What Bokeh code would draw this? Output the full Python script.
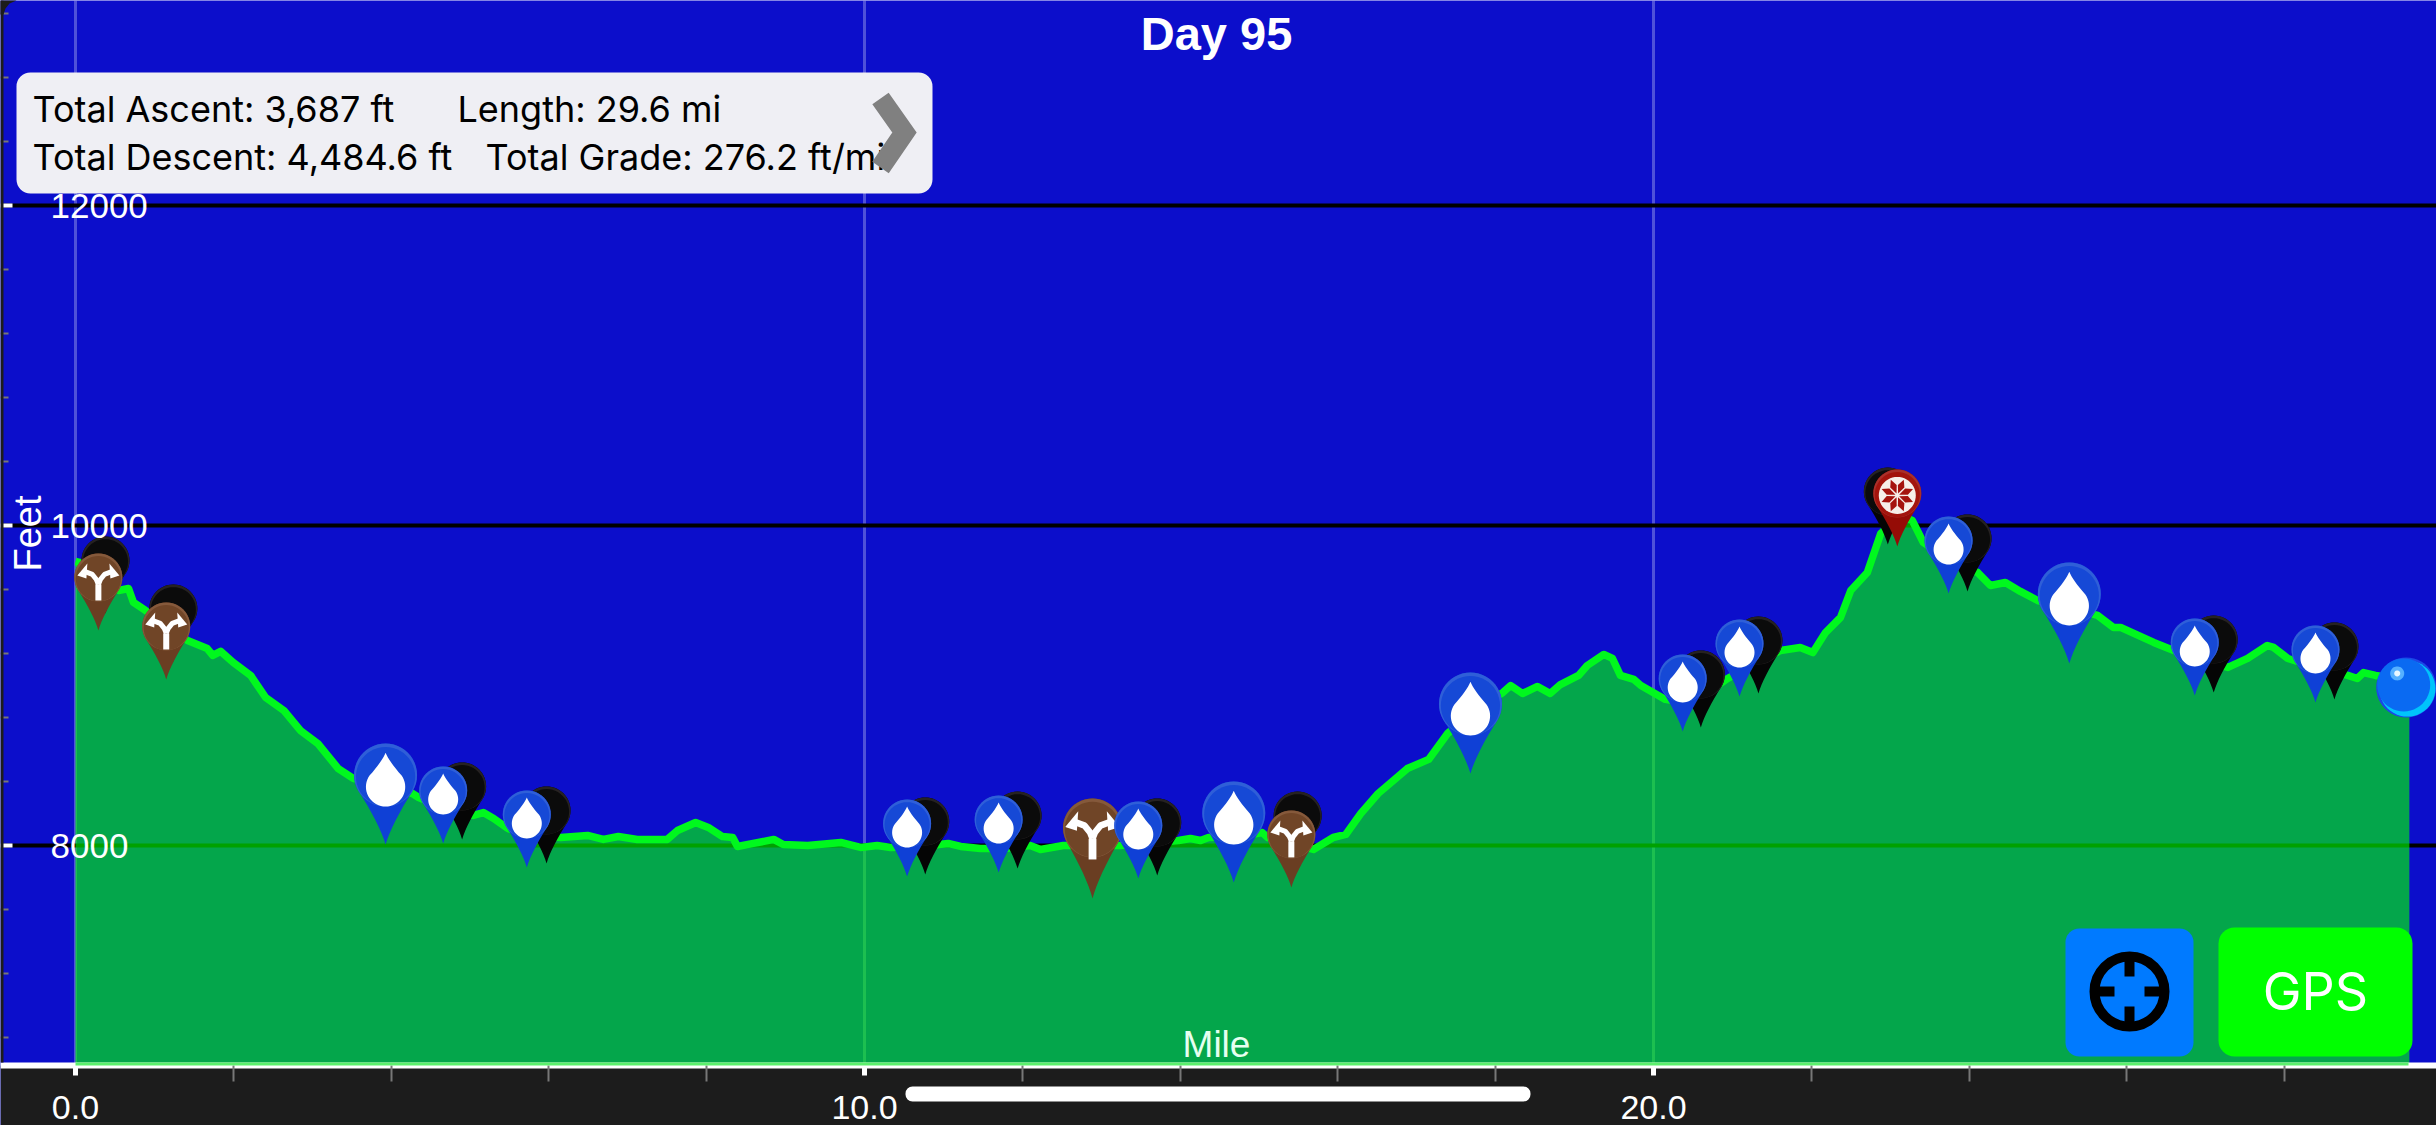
import math
from bokeh.embed import file_html
from bokeh.resources import INLINE
from bokeh.plotting import figure
from bokeh.models import (Range1d, LinearAxis, FixedTicker, PrintfTickFormatter, Grid,
                          BoxAnnotation, Label)
from bokeh.core.properties import value

# ---------- data ----------
title_text = "Day 95"
x_ticks = [0, 10, 20]
x_minor_ticks = [2, 4, 6, 8, 12, 14, 16, 18, 22, 24, 26, 28]
y_ticks = [8000, 10000, 12000]
y_tick_labels = ["8000", "10000", "12000"]
y_minor_ticks = [6800, 7200, 7600, 8400, 8800, 9200, 9600, 10400, 10800, 11200, 11600, 12400, 12800, 13200]

miles = [0.00, 0.25, 0.545, 0.672, 0.735, 0.887, 1.42, 1.67, 1.74, 1.84, 2.00, 2.22, 2.41, 2.64, 2.85, 3.07, 3.33,
         3.52, 4.27, 4.35, 4.69, 5.04, 5.17, 5.30, 5.48, 5.83, 6.15, 6.49, 6.69, 6.88, 7.12, 7.50, 7.63, 7.86, 8.02,
         8.20, 8.33, 8.39, 8.59, 8.85, 8.97, 9.28, 9.70, 9.95, 10.16, 10.33, 10.71, 11.06, 11.22, 11.47, 11.79, 12.10,
         12.23, 12.52, 13.24, 13.98, 14.13, 14.26, 14.36, 14.77, 15.04, 15.11, 15.40, 15.69, 15.94, 16.10, 16.29,
         16.51, 16.88, 17.15, 17.39, 17.74, 18.09, 18.19, 18.34, 18.53, 18.69, 18.82, 19.05, 19.16, 19.37, 19.48,
         19.58, 19.75, 19.84, 20.15, 20.47, 20.72, 20.94, 21.23, 21.61, 21.86, 22.02, 22.18, 22.37, 22.50, 22.71,
         22.88, 23.13, 23.28, 23.42, 23.76, 24.11, 24.27, 24.46, 24.65, 24.87, 25.22, 25.63, 25.83, 25.92, 26.34,
         26.53, 26.93, 27.28, 27.53, 27.78, 27.86, 28.04, 28.45, 28.80, 28.92, 29.00, 29.15, 29.58]
feet = [9775, 9745, 9594, 9606, 9519, 9469, 9281, 9231, 9188, 9213, 9144, 9063, 8925, 8844, 8719, 8638, 8481,
        8419, 8325, 8300, 8231, 8188, 8206, 8169, 8106, 8063, 8050, 8063, 8038, 8056, 8038, 8038, 8094, 8144, 8113,
        8056, 8050, 7994, 8013, 8038, 8006, 8000, 8019, 7988, 8000, 7988, 7994, 8013, 7994, 7981, 7981, 8000,
        7975, 8000, 8000, 8031, 8044, 8031, 8050, 8056, 8081, 8050, 8013, 7975, 8050, 8069, 8200,
        8325, 8481, 8538, 8700, 8844, 8956, 9000, 8950, 8994, 8950, 9006, 9063, 9125, 9194, 9169,
        9063, 9038, 9000, 8913, 8888, 8969, 9044, 9125, 9219, 9238, 9206, 9331, 9425, 9594, 9706,
        9950, 10063, 10031, 9894, 9781, 9706, 9625, 9644, 9588, 9531, 9488, 9438, 9363, 9363, 9269,
        9231, 9156, 9113, 9169, 9250, 9238, 9169, 9106, 9063, 9044, 9081, 9063, 9031]

black_miles = [0.38, 1.24, 4.90, 5.97, 10.77, 11.94, 13.71, 15.49, 20.60, 21.33, 22.97, 23.98, 27.10, 28.63]
black_feet = [9450, 9150, 8038, 7888, 7819, 7856, 7813, 7856, 8738, 8950, 9881, 9588, 8956, 8913]
water_miles = [4.66, 5.72, 10.54, 11.70, 13.47, 20.37, 21.09, 23.74, 26.86, 28.39]
water_feet = [8013, 7863, 7806, 7831, 7794, 8713, 8931, 9575, 8938, 8894]
big_water_miles = [3.93, 14.68, 17.68, 25.27]
big_water_feet = [8006, 7769, 8450, 9138]
fork_miles = [0.29, 1.15, 15.41]
fork_feet = [9344, 9038, 7738]
big_fork_miles = [12.89]
big_fork_feet = [7669]
peak_miles = [23.09]
peak_feet = [9869]
here_mile = 29.54
here_feet = 8988

# ---------- reference-pixel scale of the chart ----------
PX_PER_MILE = 78.9
FT_PER_PX = 6.25
def X(px): return (px - 75) / PX_PER_MILE
def Y(py): return 8000 + (845 - py) * FT_PER_PX

p = figure(width=2436, height=1125, frame_width=2436, frame_height=1125, output_backend="svg", toolbar_location=None,
           x_range=Range1d(X(0), X(2436)), y_range=Range1d(Y(1125), Y(0)), x_axis_type=None, y_axis_type=None,
           min_border=0, min_border_left=0, min_border_right=0, min_border_top=0, min_border_bottom=0,
           background_fill_color="#0c0ecb", border_fill_color="#1c1c1c", outline_line_color=None)

xticker = FixedTicker(ticks=x_ticks, minor_ticks=x_minor_ticks)
yticker = FixedTicker(ticks=y_ticks, minor_ticks=y_minor_ticks)
xaxis = LinearAxis(ticker=xticker, formatter=PrintfTickFormatter(format="%.1f"), fixed_location=Y(1065),
                   axis_line_color="white", axis_line_width=6,
                   major_tick_line_color="white", major_tick_line_width=5, major_tick_in=0, major_tick_out=10,
                   minor_tick_line_color="#777777", minor_tick_line_width=2, minor_tick_in=0, minor_tick_out=16,
                   major_label_text_color="white", major_label_text_font="Liberation Sans",
                   major_label_text_font_size="34px", major_label_standoff=14)
p.add_layout(xaxis, "below")
yaxis = LinearAxis(ticker=yticker, major_label_overrides={t: "" for t in y_ticks},
                   axis_line_color=None,
                   major_tick_line_color="white", major_tick_line_width=4, major_tick_in=12, major_tick_out=0,
                   minor_tick_line_color="#777777", minor_tick_line_width=2, minor_tick_in=8, minor_tick_out=0,
                   major_label_standoff=0, major_label_text_font_size="1px")
p.add_layout(yaxis, "left")
p.add_layout(Grid(dimension=0, ticker=xticker, grid_line_color="white", grid_line_alpha=0.28, grid_line_width=3))
p.add_layout(Grid(dimension=1, ticker=yticker, grid_line_color="black", grid_line_width=4))

base = Y(1063)
p.varea(x=miles, y1=[base] * len(miles), y2=feet, fill_color="#00ff00", fill_alpha=0.63)
p.line(x=miles, y=feet, line_color="#00f81e", line_width=7.5, line_join="round")
# dark device strip under the plot area, behind the x axis
p.quad(left=[X(0)], right=[X(2436)], top=[Y(1065)], bottom=[Y(1125)], fill_color="#1c1c1c", line_color=None)

# y tick labels start at the same x in the reference (left aligned)
p.text(x=[X(50)] * len(y_ticks), y=y_ticks, text=y_tick_labels, text_color="white", text_align="left",
       text_baseline="middle", text_font=value("Liberation Sans"), text_font_size="35px", level="guide")

# ---------- pin shapes, in reference pixels around each tip ----------
def offs(mx, ft, pts):
    return [mx + a / PX_PER_MILE for a, b in pts], [ft + b * FT_PER_PX for a, b in pts]

def drop_pts(H, r):
    c = H - r
    beta = math.asin(r / c)
    tx, ty = r * math.cos(beta), c - r * math.sin(beta)
    n = 36
    pts = []
    for i in range(n + 1):
        a = -beta + (math.pi + 2 * beta) * i / n
        pts.append((r * math.cos(a), c + r * math.sin(a)))
    cx, cy = tx * 0.22, ty * 0.38
    for i in range(1, 9):
        t = i / 8
        pts.append(((1-t)**2 * (-tx) + 2*t*(1-t) * (-cx), (1-t)**2 * ty + 2*t*(1-t) * cy))
    for i in range(1, 8):
        t = i / 8
        pts.append((2*t*(1-t) * cx + t*t * tx, 2*t*(1-t) * cy + t*t * ty))
    return pts

def circle_pts(cx, cy, r):
    return [(cx + r * math.cos(2 * math.pi * i / 48), cy + r * math.sin(2 * math.pi * i / 48)) for i in range(48)]

def patches(mlist, flist, pts, color):
    xs, ys = zip(*[offs(m, f, pts) for m, f in zip(mlist, flist)])
    p.patches(list(xs), list(ys), fill_color=color, line_color=None)

def pin(mlist, flist, H, r, body, rim, inner):
    c = H - r
    patches(mlist, flist, drop_pts(H, r), body)
    patches(mlist, flist, circle_pts(0, c, r), rim)
    patches(mlist, flist, circle_pts(0, c - 0.05 * r, r * 0.94), inner)

def water_icon(mlist, flist, s):
    pts = [(x * s, 29 * s + (41 - y) * s) for x, y in drop_pts(41, 15)]
    patches(mlist, flist, pts, "white")

def fork_icon(mlist, flist, s):
    stem = [(0, 30 * s), (0, 46 * s)]
    left = [(0, 46 * s), (-2 * s, 51 * s), (-6 * s, 56 * s), (-14 * s, 59 * s)]
    right = [(-a, b) for a, b in left]
    for line in (stem, left, right):
        xs, ys = zip(*[offs(m, f, line) for m, f in zip(mlist, flist)])
        p.multi_line(list(xs), list(ys), line_color="white", line_width=(6 if line is stem else 5) * s)
    patches(mlist, flist, [(-21 * s, 55 * s), (-11 * s, 67 * s), (-12 * s, 52 * s)], "white")
    patches(mlist, flist, [(21 * s, 55 * s), (11 * s, 67 * s), (12 * s, 52 * s)], "white")

def compass_icon(mlist, flist):
    patches(mlist, flist, circle_pts(0, 51, 18.5), "#f6efe9")
    for k in range(8):
        a = math.pi * k / 4 + math.pi / 8
        u = (math.cos(a), math.sin(a))
        v = (-u[1], u[0])
        spike = [(2 * u[0], 51 + 2 * u[1]), (10 * u[0] + 3.5 * v[0], 51 + 10 * u[1] + 3.5 * v[1]),
                 (17 * u[0], 51 + 17 * u[1]), (10 * u[0] - 3.5 * v[0], 51 + 10 * u[1] - 3.5 * v[1])]
        patches(mlist, flist, spike, "#a5130d")

pin(black_miles, black_feet, 77, 24, "#050505", "#262222", "#0b0b0b")
pin(fork_miles, fork_feet, 77, 24, "#6a3e22", "#85593b", "#704527")
fork_icon(fork_miles, fork_feet, 1)
pin(big_fork_miles, big_fork_feet, 100, 29.5, "#6a3e22", "#85593b", "#704527")
fork_icon(big_fork_miles, big_fork_feet, 1.3)
pin(peak_miles, peak_feet, 77, 24, "#950c06", "#a8302a", "#a3140d")
compass_icon(peak_miles, peak_feet)
pin(water_miles, water_feet, 77, 24, "#0f40d6", "#2f5fd8", "#1649d6")
water_icon(water_miles, water_feet, 1)
pin(big_water_miles, big_water_feet, 101, 31.5, "#0f40d6", "#2f5fd8", "#1649d6")
water_icon(big_water_miles, big_water_feet, 1.31)

# current-position bubble
patches([here_mile], [here_feet], circle_pts(0, 0, 30), "#1c48e6")
patches([here_mile], [here_feet], circle_pts(1.2, -1.2, 28), "#00c4fb")
patches([here_mile], [here_feet], circle_pts(-2.5, 2.5, 26.5), "#0a6af2")
patches([here_mile], [here_feet], circle_pts(-9, 14, 7), "#55b0ff")
patches([here_mile], [here_feet], circle_pts(-9, 14, 3), "#e8f7ff")

# ---------- texts and controls ----------
def label(text, px, py, size, color="white", align="left", font="Liberation Sans", style="normal", angle=0):
    p.add_layout(Label(x=X(px), y=Y(py), text=text, text_color=color, text_font=font, text_font_size=f"{size}px",
                       text_font_style=style, text_align=align, text_baseline="middle", angle=angle))

def box(x0, y0, x1, y1, color, radius):
    p.add_layout(BoxAnnotation(left=X(x0), right=X(x1), top=Y(y0), bottom=Y(y1), fill_color=color, fill_alpha=1,
                               line_color=None, border_radius=radius, editable=False))

label(title_text, 1216, 33, 47, align="center", style="bold")
label("Mile", 1216, 1044, 37, color="#e6fff0", align="center")
label("Feet", 27, 533, 38, align="center", angle=math.pi / 2)

box(16, 72, 932, 193, "#efeff4", 14)
label("Total Ascent: 3,687 ft", 32, 108, 36, color="black", font="Inter")
label("Length: 29.6 mi", 457, 108, 36, color="black", font="Inter")
label("Total Descent: 4,484.6 ft", 32, 156, 36, color="black", font="Inter")
label("Total Grade: 276.2 ft/mi", 485, 156, 36, color="black", font="Inter")
p.line(x=[X(880), X(904), X(880)], y=[Y(98), Y(132), Y(167)], line_color="#808080", line_width=20, level="overlay",
       line_join="miter")

box(2065, 928, 2193, 1056, "#007aff", 14)
p.circle(x=[X(2129)], y=[Y(991)], radius=35 / PX_PER_MILE, radius_dimension="x", fill_color=None, line_color="black",
         line_width=10, level="overlay")
p.multi_line(xs=[[X(2129), X(2129)], [X(2129), X(2129)], [X(2094), X(2114)], [X(2144), X(2164)]],
             ys=[[Y(956), Y(976)], [Y(1006), Y(1026)], [Y(991), Y(991)], [Y(991), Y(991)]],
             line_color="black", line_width=10, level="overlay")
box(2218, 927, 2412, 1056, "#00ff00", 16)
label("GPS", 2315, 991, 52, align="center", font="Inter")

p.line(x=[X(75), X(2408)], y=[Y(1063.5), Y(1063.5)], line_color="#5cf06c", line_width=3, level="overlay")

# device chrome: left strip, rounded corner, home indicator
box(0, 0, 3, 1062, "#1c1c1c", 0)
corner = [(0, 0), (16, 0), (9, 3), (5, 8), (3, 14), (0, 14)]
p.patch(x=[X(a) for a, b in corner], y=[Y(b) for a, b in corner], fill_color="#1c1c1c", line_color=None, level="overlay")
box(905, 1086, 1530, 1101, "white", 7)

open("out.html", "w").write(file_html(p, INLINE))
